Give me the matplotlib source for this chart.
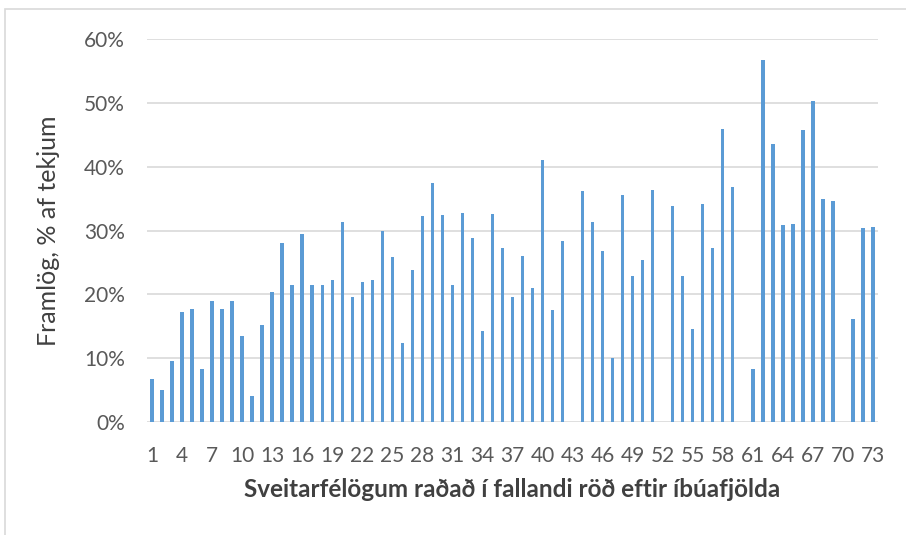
import matplotlib.pyplot as plt
from matplotlib.patches import Rectangle
from matplotlib.ticker import PercentFormatter

# Framlög sem hlutfall af tekjum, sveitarfélög 1-73
municipality = list(range(1, 74))
framlog = [
    6.8, 5.0, 9.6, 17.3, 17.7, 8.3, 19.0, 17.7, 19.0, 13.4,
    4.0, 15.2, 20.3, 28.0, 21.5, 29.4, 21.4, 21.5, 22.2, 31.4,
    19.6, 22.0, 22.2, 30.0, 25.8, 12.4, 23.8, 32.2, 37.4, 32.4,
    21.4, 32.8, 28.8, 14.3, 32.6, 27.2, 19.6, 26.0, 21.0, 41.0,
    17.5, 28.4, 0.0, 36.2, 31.4, 26.8, 10.0, 35.6, 22.8, 25.4,
    36.4, 0.0, 33.9, 22.8, 14.6, 34.2, 27.2, 45.9, 36.8, 0.0,
    8.3, 56.7, 43.5, 30.8, 31.0, 45.7, 50.3, 35.0, 34.6, 0.0,
    16.2, 30.4, 30.6,
]
tick_labels = [str(i) for i in range(1, 74, 3)]

plt.rcParams['font.family'] = ['Lato', 'DejaVu Sans']

fig = plt.figure(figsize=(9.06, 5.35), dpi=100)
ax = fig.add_axes([0.1623, 0.2112, 0.8067, 0.7158])

# light frame around the chart like the original screenshot
fig.patches.append(Rectangle((5 / 906, -0.05), 1.1, 1 - 9 / 535 + 0.05,
                             transform=fig.transFigure, fill=False,
                             edgecolor='#d9d9d9', linewidth=1.2))

ax.bar(municipality, [v / 100 for v in framlog], width=0.35, color='#5b9bd5', zorder=3)

ax.set_xlim(0.5, 73.5)
ax.set_ylim(0, 0.6)
ax.set_yticks([0, 0.1, 0.2, 0.3, 0.4, 0.5, 0.6])
ax.yaxis.set_major_formatter(PercentFormatter(1.0, decimals=0))
ax.set_xticks(list(range(1, 74, 3)))
ax.set_xticklabels(tick_labels)

ax.grid(axis='y', color='#d9d9d9', linewidth=1.2, zorder=0)
for s in ax.spines.values():
    s.set_visible(False)
ax.tick_params(length=0, labelsize=15, colors='#595959')
ax.tick_params(axis='y', pad=16)
ax.tick_params(axis='x', pad=17)

ax.set_ylabel('Framlög, % af tekjum', fontsize=18, color='#404040', labelpad=17)
ax.set_xlabel('Sveitarfélögum raðað í fallandi röð eftir íbúafjölda',
              fontsize=17.5, fontweight='bold', color='#404040', labelpad=9)

fig.savefig('out.png', dpi=100)
